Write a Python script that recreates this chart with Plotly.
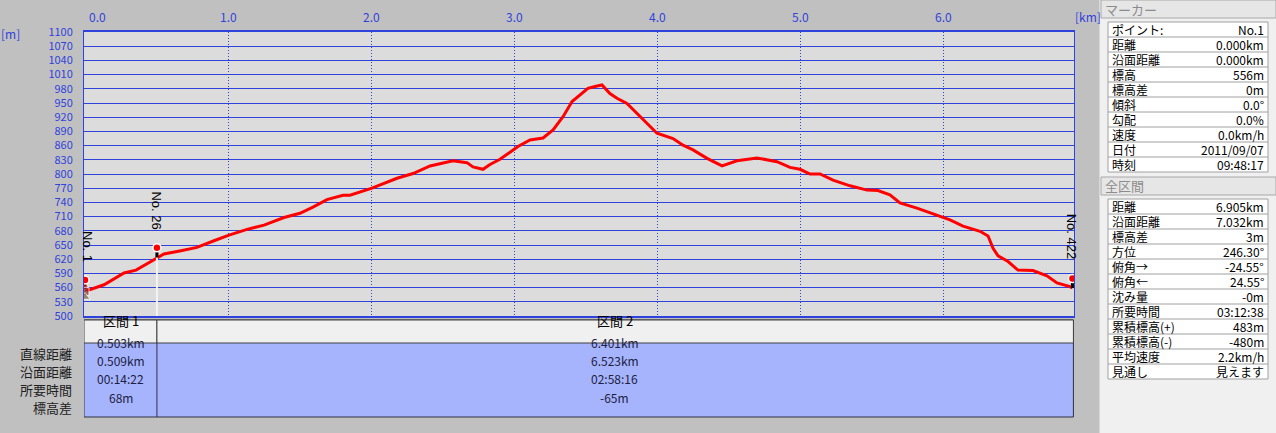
import plotly.graph_objects as go

# ── Data ─────────────────────────────────────────────────────────────────────

dist_km = [0.000, 0.028, 0.133, 0.224, 0.273, 0.357, 0.434, 0.503, 0.552, 0.671,
           0.783, 0.902, 1.007, 1.133, 1.252, 1.392, 1.503, 1.594, 1.692, 1.804,
           1.853, 2.007, 2.182, 2.294, 2.413, 2.573, 2.671, 2.713, 2.783, 2.832,
           2.902, 2.972, 3.028, 3.112, 3.203, 3.273, 3.343, 3.406, 3.448, 3.517,
           3.566, 3.615, 3.671, 3.720, 3.790, 3.860, 3.930, 4.000, 4.112, 4.182,
           4.252, 4.350, 4.455, 4.559, 4.699, 4.839, 4.930, 5.000, 5.070, 5.140,
           5.231, 5.350, 5.469, 5.545, 5.629, 5.699, 5.818, 5.909, 6.000, 6.049,
           6.140, 6.259, 6.315, 6.350, 6.385, 6.455, 6.524, 6.629, 6.727, 6.797,
           6.888, 6.905]
elev_m = [556, 555, 566, 583, 591, 597, 611, 622, 631, 638,
          645, 659, 671, 683, 692, 708, 717, 730, 746, 755,
          755, 770, 791, 801, 817, 828, 824, 815, 810, 820,
          831, 846, 858, 872, 876, 893, 921, 953, 963, 981,
          985, 988, 970, 960, 949, 928, 907, 886, 875, 861,
          851, 833, 817, 828, 834, 826, 814, 810, 800, 800,
          787, 775, 766, 765, 756, 739, 728, 718, 708, 703,
          690, 679, 669, 643, 627, 615, 597, 596, 585, 570,
          562, 559]

marker_names = ["No. 1", "No. 26", "No. 422"]
marker_km = [0.0, 0.503, 6.905]
marker_elev = [556, 624, 559]

y_ticks = list(range(500, 1101, 30))
x_ticks = [0, 1, 2, 3, 4, 5, 6]
x_tick_labels = ["0.0", "1.0", "2.0", "3.0", "4.0", "5.0", "6.0"]

section_names = ["区間 1", "区間 2"]
section_bounds_km = [0.0, 0.503, 6.905]
section_row_labels = ["直線距離", "沿面距離", "所要時間", "標高差"]
section_values = [
    ["0.503km", "0.509km", "00:14:22", "68m"],
    ["6.401km", "6.523km", "02:58:16", "-65m"],
]

marker_panel_labels = ["ポイント:", "距離", "沿面距離", "標高", "標高差", "傾斜",
                       "勾配", "速度", "日付", "時刻"]
marker_panel_values = ["No.1", "0.000km", "0.000km", "556m", "0m", "0.0°",
                       "0.0%", "0.0km/h", "2011/09/07", "09:48:17"]

total_panel_labels = ["距離", "沿面距離", "標高差", "方位", "俯角→", "俯角←", "沈み量",
                      "所要時間", "累積標高(+)", "累積標高(-)", "平均速度", "見通し"]
total_panel_values = ["6.905km", "7.032km", "3m", "246.30°", "-24.55°", "24.55°", "-0m",
                      "03:12:38", "483m", "-480m", "2.2km/h", "見えます"]

# ── Layout constants (pixels) ────────────────────────────────────────────────

W, H = 1276, 433
L, R, T, B = 84, 1074, 32, 316
PX_PER_KM = 143
BLUE = "#3042dc"
FONT = "Noto Sans CJK JP"


def px(x):
    return (x - L) / (R - L)


def py(y):
    return (B - y) / (B - T)


shapes = []
annotations = []


def rect(x0, y0, x1, y1, fill, line="#a0a0a0", width=1, xref="paper"):
    shapes.append(dict(type="rect", xref=xref, yref="paper", x0=x0, x1=x1,
                       y0=py(y0), y1=py(y1), fillcolor=fill,
                       line=dict(color=line, width=width), layer="above"))


def hline(x0, x1, y, color, width=1, xref="paper"):
    shapes.append(dict(type="line", xref=xref, yref="paper", x0=x0, x1=x1,
                       y0=py(y), y1=py(y), line=dict(color=color, width=width),
                       layer="above"))


def text(x, y, s, anchor="center", color="#000000", size=13, xref="paper"):
    annotations.append(dict(x=x, y=py(y), xref=xref, yref="paper", text=s,
                            showarrow=False, xanchor=anchor, yanchor="middle",
                            font=dict(family=FONT, size=size, color=color)))


# ── Figure ───────────────────────────────────────────────────────────────────

fig = go.Figure()

fig.add_trace(go.Scatter(x=dist_km, y=elev_m, mode="lines",
                         line=dict(color="#ff0000", width=3), hoverinfo="skip"))

# vertical guide below No. 26 (section boundary)
fig.add_trace(go.Scatter(x=[marker_km[1], marker_km[1]], y=[500, marker_elev[1]],
                         mode="lines", line=dict(color="#f4f4f4", width=2),
                         hoverinfo="skip"))

# marker stems + heads
stem_x, stem_y = [], []
for k, e in zip(marker_km, marker_elev):
    stem_x += [k, k, None]
    stem_y += [e, e + 17, None]
fig.add_trace(go.Scatter(x=stem_x, y=stem_y, mode="lines",
                         line=dict(color="#000000", width=3), hoverinfo="skip"))
fig.add_trace(go.Scatter(x=marker_km, y=[e + 20 for e in marker_elev], mode="markers",
                         marker=dict(color="#ff0000", size=8,
                                     line=dict(color="#ffffff", width=1.5)),
                         hoverinfo="skip"))

# little hiker at the start point
fig.add_trace(go.Scatter(x=[marker_km[0]] * 3,
                         y=[marker_elev[0] + 6, marker_elev[0] - 4, marker_elev[0] - 16],
                         mode="markers",
                         marker=dict(color=["#e03030", "#902020", "#806040"],
                                     symbol=["circle", "square", "triangle-up"],
                                     size=[6, 8, 9]),
                         hoverinfo="skip"))

for name, k, e in zip(marker_names, marker_km, marker_elev):
    annotations.append(dict(x=k, y=e, xref="x", yref="y", text=name, textangle=90,
                            showarrow=False, yanchor="bottom", yshift=26,
                            xshift=2 if k == 0 else 0,
                            font=dict(family="Liberation Sans", size=13, color="#000000")))

# x tick labels (top) and units
for v, lab in zip(x_ticks, x_tick_labels):
    annotations.append(dict(x=v, y=py(16), xref="x", yref="paper", text=lab,
                            showarrow=False, xanchor="center", yanchor="middle",
                            xshift=12 if v == 0 else 0,
                            font=dict(family=FONT, size=12, color=BLUE)))
text(px(1088), 16, "[km]", color=BLUE, size=12)
text(px(10), 33, "[m]", color=BLUE, size=12)

# ── Section table below the plot ─────────────────────────────────────────────

rect(section_bounds_km[0] - 0.007, 320, section_bounds_km[-1] + 0.007, 417,
     "#a6b4fe", line="#303040", xref="x")
for i, name in enumerate(section_names):
    a, b = section_bounds_km[i], section_bounds_km[i + 1]
    rect(a - (0.007 if i == 0 else 0), 320, b + (0.007 if i == 1 else 0), 343,
         "#f0f0f0", line="#404040", xref="x")
    mid = (a + b) / 2
    annotations.append(dict(x=mid, y=py(331.5), xref="x", yref="paper", text=name,
                            showarrow=False, font=dict(family=FONT, size=13, color="#000000")))
    for j, val in enumerate(section_values[i]):
        annotations.append(dict(x=mid, y=py(353 + 18.2 * j), xref="x", yref="paper",
                                text=val, showarrow=False,
                                font=dict(family=FONT, size=12, color="#202040")))
shapes.append(dict(type="line", xref="x", yref="paper", x0=section_bounds_km[1],
                   x1=section_bounds_km[1], y0=py(343), y1=py(417),
                   line=dict(color="#303040", width=1), layer="above"))
for j, lab in enumerate(section_row_labels):
    text(px(74), 353 + 18.2 * j, lab, anchor="right", color="#202020")

# ── Right-hand panel ─────────────────────────────────────────────────────────

rect(px(1100), 0, px(1276), 433, "#f0f0f0", line="#f0f0f0")


def panel(header_y, top, labels, values):
    rect(px(1101), header_y, px(1276), header_y + 18, "#e6e6e6", line="#a8a8a8")
    rect(px(1108), top, px(1268), top + 15 * len(labels), "#ffffff", line="#a0a0a0")
    for i, (lab, val) in enumerate(zip(labels, values)):
        yc = top + 7.5 + 15 * i
        if i:
            hline(px(1108), px(1268), top + 15 * i, "#a0a0a0")
        text(px(1110), yc, lab, anchor="left", size=12)
        text(px(1266), yc, val, anchor="right", size=12)


panel(0, 22, marker_panel_labels, marker_panel_values)
text(px(1103), 9, "マーカー", anchor="left", color="#8c8c8c")
panel(177, 199, total_panel_labels, total_panel_values)
text(px(1103), 186, "全区間", anchor="left", color="#8c8c8c")

fig.update_layout(
    width=W,
    height=H,
    margin=dict(l=L, r=W - R, t=T, b=H - B),
    paper_bgcolor="#c0c0c0",
    plot_bgcolor="#dcdcdc",
    showlegend=False,
    font=dict(family=FONT, size=12, color=BLUE),
    xaxis=dict(range=[(L - 85) / PX_PER_KM, (R - 85) / PX_PER_KM], tickvals=x_ticks,
               showticklabels=False, showgrid=True, gridcolor=BLUE, griddash="1px,2px",
               gridwidth=1, zeroline=False, showline=True, mirror=True,
               linecolor=BLUE, linewidth=2),
    yaxis=dict(range=[500, 1100], tickvals=y_ticks, showgrid=True, gridcolor=BLUE,
               gridwidth=1, zeroline=False, showline=True, mirror=True,
               linecolor=BLUE, linewidth=1, ticks="outside", ticklen=8,
               tickcolor="rgba(0,0,0,0)", tickfont=dict(family=FONT, size=11, color=BLUE)),
    shapes=shapes,
    annotations=annotations,
)

fig.write_html("out.html", config={"displayModeBar": False},
               post_script="document.body.style.margin='0';")
